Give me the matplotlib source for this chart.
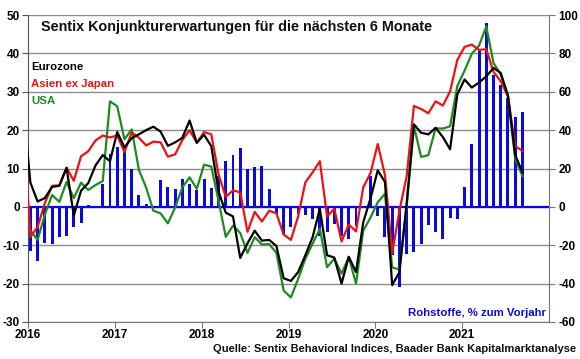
import matplotlib

matplotlib.use("Agg")

import matplotlib.pyplot as plt
import numpy as np
import pandas as pd

# monthly values Jan 2016 - Sep 2021 (left axis)
eurozone = [
    6.3, 1.4, 2.3, 5.2, 5.5, 10.2, -2.3, 4.2, 6.2, 10.8, 13.5, 11.9,
    19.5, 15.5, 17.9, 18.9, 20.0, 20.9, 19.6, 15.9, 16.8, 18.0, 22.5, 16.7,
    18.8, 15.8, 4.0, -1.5, -2.5, -13.3, -9.5, -6.2, -8.8, -8.6, -10.2, -18.6,
    -19.3, -17.0, -12.6, -7.9, -0.5, -12.6, -13.2, -20.0, -13.0, -17.0, -4.0, 2.2,
    9.5, 6.5, -20.4, -17.0, 1.0, 21.5, 19.3, 18.9, 20.6, 18.2, 15.0, 29.3,
    33.2, 31.1, 32.4, 34.0, 36.2, 34.9, 29.0, 13.5, 9.0,
]
asia_ex_japan = [
    -7.8, -5.2, 1.0, 5.5, 5.6, 10.2, 6.8, 13.2, 14.5, 17.3, 18.6, 18.1,
    18.6, 14.3, 19.4, 18.0, 16.0, 17.0, 16.8, 13.1, 13.7, 17.4, 20.0, 16.7,
    19.5, 18.9, 8.5, 2.6, 4.3, 3.8, -6.5, -1.3, -3.8, -1.0, -1.7, -7.2,
    -8.6, -2.5, 6.4, 9.0, 11.9, -2.5, -0.5, -9.0, -4.6, -6.4, 5.1, 8.8,
    16.4, 8.3, -12.0, -1.0, 8.0, 26.3, 25.5, 24.4, 27.5, 26.4, 30.1, 38.3,
    41.7, 42.3, 40.9, 41.1, 35.2, 32.7, 28.8, 15.8, 14.6,
]
usa = [
    -6.2, -8.6, -2.0, 3.1, 1.3, 6.5, 2.3, 6.3, 4.4, 5.7, 6.7, 27.5,
    26.2, 17.6, 20.2, 9.6, 5.0, -1.0, -1.7, -4.3, -0.2, 5.1, 7.7, 4.7,
    11.0, 10.5, 1.6, -7.8, -4.9, -6.8, -12.0, -7.9, -9.8, -9.7, -12.0, -21.8,
    -23.6, -18.8, -13.5, -9.6, -5.7, -15.7, -13.5, -17.4, -13.1, -20.0, -6.2, -2.8,
    1.2, 3.4, -15.8, -16.3, 0.0, 21.0, 13.0, 13.5, 20.5, 20.4, 21.0, 31.5,
    35.5, 39.9, 42.0, 47.0, 37.5, 34.5, 28.8, 12.5, 8.0,
]
# Dec 2015 values, only the clipped start of the lines shows
eurozone_dec15 = 26.5
asia_dec15 = 23.0

# commodities, % yoy (right axis)
rohstoffe = [
    -23.0, -28.0, -18.7, -19.5, -15.5, -15.3, -10.5, -8.6, 1.0, -0.7, 12.0, 27.3,
    31.3, 32.1, 19.7, 6.0, 1.7, 0.3, 13.9, 10.4, 9.2, 14.5, 12.1, 9.0,
    14.7, 9.7, 16.1, 23.9, 27.0, 30.5, 19.6, 21.0, 21.3, 9.2, -3.8, -14.0,
    -10.5, -3.8, -4.2, -6.4, -15.4, -13.0, -9.0, -15.0, -16.8, -10.2, 0.5, 16.2,
    -4.7, -15.9, -25.0, -42.0, -24.6, -23.4, -19.4, -9.7, -13.3, -16.5, -5.9, -6.4,
    10.4, 32.6, 81.4, 95.7, 68.6, 63.4, 56.5, 46.8, 49.4,
]

years = [2016, 2017, 2018, 2019, 2020, 2021]
left_ticks = [-30, -20, -10, 0, 10, 20, 30, 40, 50]
right_ticks = [-60, -40, -20, 0, 20, 40, 60, 80, 100]

title = "Sentix Konjunkturerwartungen für die nächsten 6 Monate"
source = "Quelle: Sentix Behavioral Indices, Baader Bank Kapitalmarktanalyse"

plt.rcParams["font.family"] = ["Liberation Sans", "DejaVu Sans"]
plt.rcParams["font.weight"] = "bold"
plt.rcParams["axes.unicode_minus"] = False

BLUE = "#0a0ae0"
RED = "#ee1111"
GREEN = "#1f8a1f"
GRID = "#8c8c8c"
W, H = 580, 359

dates = pd.date_range("2016-01-01", periods=len(eurozone), freq="MS")
x = dates.year + (dates.month - 1 + 0.33) / 12.0
x_dec = 2016 - 0.67 / 12.0
x_line = np.concatenate([[x_dec], x])

fig = plt.figure(figsize=(W / 100, H / 100), dpi=100)
ax2 = fig.add_axes([28 / W, 1 - 322 / H, (549 - 28) / W, (322 - 15) / H])
ax = ax2.twinx()
# left-axis lines drawn over the bars of the right axis
ax.yaxis.tick_left()
ax.yaxis.set_label_position("left")
ax2.yaxis.tick_right()
ax.set_zorder(ax2.get_zorder() + 1)
ax.patch.set_visible(False)

ax2.set_ylim(-60, 100)
ax2.set_yticks(right_ticks)
for t in right_ticks:
    ax2.axhline(t, color=GRID, linewidth=1.0, zorder=0)
ax2.bar(x, rohstoffe, width=0.034, color=BLUE, zorder=2)
ax2.axhline(0, color=BLUE, linewidth=1.6, zorder=3)

ax.plot(x, usa, color=GREEN, linewidth=1.6, zorder=3)
ax.plot(x_line, [asia_dec15] + asia_ex_japan, color=RED, linewidth=1.6, zorder=4)
ax.plot(x_line, [eurozone_dec15] + eurozone, color="black", linewidth=1.6, zorder=5)
ax.set_ylim(-30, 50)
ax.set_yticks(left_ticks)
ax.set_xlim(2016, 2022)
ax2.set_xlim(2016, 2022)
ax2.set_xticks(years)
ax2.set_xticklabels([str(y) for y in years])

for a in (ax, ax2):
    for side in ("top", "bottom", "left", "right"):
        a.spines[side].set_visible(False)
ax.spines["left"].set_visible(True)
ax.spines["left"].set_color("#555555")
ax.spines["right"].set_visible(True)
ax.spines["right"].set_color("#777777")
ax.spines["bottom"].set_visible(True)
ax.spines["bottom"].set_color("#777777")

ax.tick_params(axis="y", labelsize=8.5, length=4, color="#555555", pad=2)
ax2.tick_params(axis="y", labelsize=8.5, length=4, color="#777777", pad=3)
ax2.tick_params(axis="x", labelsize=8.5, length=4, color="#777777", pad=1)
ax.tick_params(axis="x", bottom=False, labelbottom=False)

fig.text(41 / W, 1 - 27.5 / H, title, fontsize=10.4, fontweight="bold",
         va="center", ha="left", color="#111111")
fig.text(31 / W, 1 - 67 / H, "Eurozone", fontsize=8.2, fontweight="bold",
         va="center", color="black")
fig.text(31 / W, 1 - 84 / H, "Asien ex Japan", fontsize=8.2, fontweight="bold",
         va="center", color=RED)
fig.text(31 / W, 1 - 101 / H, "USA", fontsize=8.2, fontweight="bold",
         va="center", color=GREEN)
fig.text(546 / W, 1 - 313 / H, "Rohstoffe, % zum Vorjahr", fontsize=8.2,
         fontweight="bold", va="center", ha="right", color=BLUE)
fig.text(576 / W, 1 - 349 / H, source, fontsize=8.0, fontweight="bold",
         va="center", ha="right", color="#111111")

fig.savefig("out.png", dpi=100)
plt.close(fig)
